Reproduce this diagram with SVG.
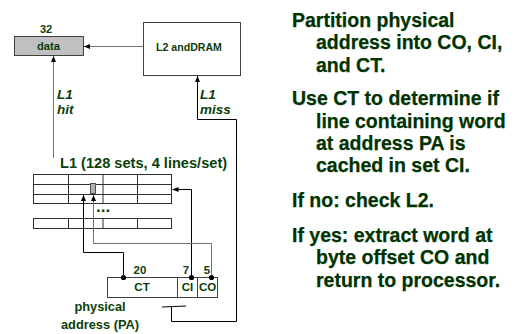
<svg xmlns="http://www.w3.org/2000/svg" width="519" height="334" viewBox="0 0 519 334">
<defs>
<style>
text{font-family:"Liberation Sans",Arial,sans-serif;font-weight:bold;fill:#0a3f0a}
.big{font-size:19.5px;fill:#003300;stroke:#003300;stroke-width:0.25}
.box{stroke:#404040;stroke-width:1}
.grid{fill:#fff;stroke:#303030;stroke-width:1}
.c{fill:none;stroke:#000;stroke-width:1}
.g{fill:none;stroke:#707070;stroke-width:1}
.it{font-style:italic;font-size:13.5px}
</style>
<marker id="ah" viewBox="0 0 6 6" refX="6" refY="3" markerWidth="6" markerHeight="6" markerUnits="userSpaceOnUse" orient="auto">
<path d="M0,0.5 L6,3 L0,5.5 Z" fill="#000"/>
</marker>
</defs>
<rect width="519" height="334" fill="#fff"/>

<g id="data">
<text x="46" y="33" font-size="11" text-anchor="middle">32</text>
<rect class="box" x="14.5" y="36.5" width="69" height="19" fill="#c0c0c0"/>
<text x="48.5" y="50" font-size="11.2" text-anchor="middle">data</text>
</g>

<g id="l2dram">
<rect class="box" x="143.5" y="22.5" width="97" height="53" fill="#fff"/>
<text x="189" y="51" font-size="10.6" text-anchor="middle">L2 andDRAM</text>
</g>

<g id="l1cache">
<text x="60" y="168" font-size="14.6">L1 (128 sets, 4 lines/set)</text>
<rect class="grid" x="33.5" y="174.5" width="138" height="29"/>
<path class="grid" d="M33.5,184.5 H171.5 M33.5,194.5 H171.5 M68.5,174.5 V203.5 M103,174.5 V203.5 M137.5,174.5 V203.5"/>
<rect x="90.5" y="183.5" width="5" height="10" fill="#b0b0b0" stroke="#505050"/>
<text x="96" y="212" font-size="17">...</text>
<rect class="grid" x="33.5" y="218.5" width="138" height="10"/>
<path class="grid" d="M68.5,218.5 V228.5 M103,218.5 V228.5 M137.5,218.5 V228.5"/>
</g>

<g id="pa">
<rect class="box" x="107.5" y="277.5" width="110" height="20" fill="#fff"/>
<path class="box" d="M177.5,277.5 V297.5 M197.5,277.5 V297.5"/>
<text x="140" y="274" font-size="11.5" text-anchor="middle">20</text>
<text x="186" y="274" font-size="11.5" text-anchor="middle">7</text>
<text x="207" y="274" font-size="11.5" text-anchor="middle">5</text>
<text x="142" y="291" font-size="11.5" text-anchor="middle">CT</text>
<text x="187.5" y="291" font-size="11.5" text-anchor="middle">CI</text>
<text x="207.5" y="291" font-size="11.5" text-anchor="middle">CO</text>
<text x="100" y="311" font-size="12.8" text-anchor="middle">physical</text>
<text x="100" y="329" font-size="12.8" text-anchor="middle">address (PA)</text>
</g>

<g id="connectors">
<path class="g" d="M143.5,46.5 H84" marker-end="url(#ah)"/>
<path class="g" d="M53.5,158 V56" marker-end="url(#ah)"/>
<text class="it" x="57" y="99">L1</text>
<text class="it" x="57" y="114">hit</text>
<path class="c" d="M162,307 L186,306 M171.5,306.5 V321.5 H236.5 V119.5 H197.5 V76" marker-end="url(#ah)"/>
<text class="it" x="200" y="99">L1</text>
<text class="it" x="200" y="114">miss</text>
<path class="c" d="M191.5,277 V189.5 H172.5" marker-end="url(#ah)"/>
<path class="c" d="M123.5,277 V252.5 H83.5 V195" marker-end="url(#ah)"/>
<path class="g" d="M211.5,277 V243.5 H93.5 V195" marker-end="url(#ah)"/>
<circle cx="123.5" cy="277.5" r="2.6"/>
<circle cx="191.5" cy="277.5" r="2.6"/>
<circle cx="211.5" cy="277.5" r="2.6"/>
</g>

<g id="notes">
<text class="big" x="292" y="27">Partition physical</text>
<text class="big" x="316" y="49">address into CO, CI,</text>
<text class="big" x="316" y="72">and CT.</text>
<text class="big" x="292" y="105">Use CT to determine if</text>
<text class="big" x="316" y="128">line containing word</text>
<text class="big" x="316" y="150">at address PA is</text>
<text class="big" x="316" y="172">cached in set CI.</text>
<text class="big" x="292" y="207">If no: check L2.</text>
<text class="big" x="292" y="242">If yes: extract word at</text>
<text class="big" x="316" y="264">byte offset CO and</text>
<text class="big" x="316" y="287">return to processor.</text>
</g>
</svg>
